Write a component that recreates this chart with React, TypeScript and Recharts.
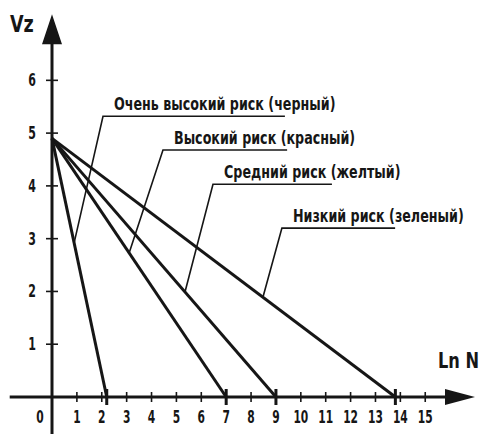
import { LineChart, Line, XAxis, YAxis, ReferenceLine, ReferenceDot } from 'recharts';

const FONT = "'DejaVu Sans Condensed', 'DejaVu Sans', sans-serif";
const INK = '#161616';

// risk categories, in the order they fan out from the start point
const riskLabels = [
  'Очень высокий риск (черный)',
  'Высокий риск (красный)',
  'Средний риск (желтый)',
  'Низкий риск (зеленый)',
];
const startX = 0;
const startY = 4.9;
const endX = [2.2, 7, 9, 13.8];

const xTicks = [0, 1, 2, 3, 4, 5, 6, 7, 8, 9, 10, 11, 12, 13, 14, 15];
const yTicks = [1, 2, 3, 4, 5, 6];

// leader lines for the callouts (data units)
const leaderAnchorY = [2.92, 2.73, 1.99, 1.89];
const leaderElbowX = [2.05, 4.46, 6.47, 9.24];
const leaderElbowY = [5.32, 4.68, 4.03, 3.2];
const leaderEndX = [9.36, 9.45, 11.25, 13.79];

const series = endX.map((ex) => [
  { x: startX, y: startY },
  { x: ex, y: 0 },
]);

const leaders = endX.map((ex, i) => {
  const ay = leaderAnchorY[i];
  const ax = startX + ((ex - startX) * (startY - ay)) / startY;
  return [
    { x: leaderEndX[i], y: leaderElbowY[i] },
    { x: leaderElbowX[i], y: leaderElbowY[i] },
    { x: ax, y: ay },
  ];
});

const TICK_SIZE = 6;

// the scan uses a condensed face, so squeeze DejaVu horizontally
function Txt({ x, y, size, sx, anchor = 'start', children }: any) {
  return (
    <text
      transform={`translate(${x},${y}) scale(${sx},1)`}
      textAnchor={anchor}
      fontFamily={FONT}
      fontWeight="bold"
      fontSize={size}
      fill={INK}
    >
      {children}
    </text>
  );
}

function YTick(props: any) {
  const { x, y, payload } = props;
  const axisX = x + TICK_SIZE + 10;
  return (
    <g>
      <line x1={axisX - 6} x2={axisX + 6} y1={y} y2={y} stroke={INK} strokeWidth={1.6} />
      <Txt x={x} y={y + 6} size={17} sx={0.72} anchor="end">
        {payload.value}
      </Txt>
    </g>
  );
}

function XTick(props: any) {
  const { x, y, payload } = props;
  const axisY = y - TICK_SIZE - 2;
  const isZero = payload.value === 0;
  return (
    <g>
      {!isZero && <line x1={x} x2={x} y1={axisY - 5} y2={axisY + 5} stroke={INK} strokeWidth={1.6} />}
      <Txt x={isZero ? x - 12 : x} y={axisY + 26} size={17} sx={0.7} anchor="middle">
        {payload.value}
      </Txt>
    </g>
  );
}

const upArrow = (p: any) => (
  <polygon points={`${p.cx},${p.cy} ${p.cx - 10},${p.cy + 30} ${p.cx + 10},${p.cy + 30}`} fill={INK} />
);
const rightArrow = (p: any) => (
  <polygon points={`${p.cx},${p.cy} ${p.cx - 30},${p.cy - 8} ${p.cx - 30},${p.cy + 8}`} fill={INK} />
);
const endMark = (p: any) => (
  <line x1={p.cx} x2={p.cx} y1={p.cy - 8} y2={p.cy + 8} stroke={INK} strokeWidth={3} />
);
const calloutText = (text: string) => (p: any) => (
  <Txt x={p.cx + 11} y={p.cy - 6} size={17} sx={0.83}>
    {text}
  </Txt>
);

export default function App() {
  return (
    <div style={{ position: 'fixed', left: 0, top: 0, width: 481, height: 435, background: '#fff' }}>
      <LineChart width={481} height={435} margin={{ top: 17, right: 6, bottom: 0, left: 0 }}>
        <XAxis
          type="number"
          dataKey="x"
          domain={[0, 17]}
          ticks={xTicks}
          height={38}
          axisLine={false}
          tickLine={false}
          tickSize={TICK_SIZE}
          tickMargin={2}
          tick={XTick}
          interval={0}
          label={{
            content: ({ viewBox }: any) => (
              <Txt x={viewBox.x + viewBox.width + 4} y={viewBox.y - 29} size={22} sx={0.82} anchor="end">
                Ln N
              </Txt>
            ),
          }}
        />
        <YAxis
          type="number"
          domain={[0, 7.2]}
          ticks={yTicks}
          width={52}
          axisLine={false}
          tickLine={false}
          tickSize={TICK_SIZE}
          tickMargin={10}
          tick={YTick}
          interval={0}
          label={{
            content: ({ viewBox }: any) => (
              <Txt x={viewBox.x + 10} y={viewBox.y + 15} size={23} sx={0.85}>
                Vz
              </Txt>
            ),
          }}
        />

        <ReferenceLine segment={[{ x: 0, y: -0.7 }, { x: 0, y: 7.1 }]} stroke={INK} strokeWidth={3} ifOverflow="visible" />
        <ReferenceLine segment={[{ x: -1.7, y: 0 }, { x: 16.5, y: 0 }]} stroke={INK} strokeWidth={3} ifOverflow="visible" />
        <ReferenceDot x={0} y={7.25} r={1} shape={upArrow} ifOverflow="visible" />
        <ReferenceDot x={17} y={0} r={1} shape={rightArrow} ifOverflow="visible" />

        {series.map((d, i) => (
          <Line
            key={riskLabels[i]}
            data={d}
            dataKey="y"
            type="linear"
            stroke={INK}
            strokeWidth={3}
            dot={false}
            activeDot={false}
            isAnimationActive={false}
          />
        ))}
        {leaders.map((d, i) => (
          <Line
            key={'leader-' + i}
            data={d}
            dataKey="y"
            type="linear"
            stroke={INK}
            strokeWidth={1.6}
            dot={false}
            activeDot={false}
            isAnimationActive={false}
          />
        ))}
        {endX.map((ex) => (
          <ReferenceDot key={'end-' + ex} x={ex} y={0} r={1} shape={endMark} ifOverflow="visible" />
        ))}
        {riskLabels.map((t, i) => (
          <ReferenceDot
            key={t}
            x={leaderElbowX[i]}
            y={leaderElbowY[i]}
            r={1}
            shape={calloutText(t)}
            ifOverflow="visible"
          />
        ))}
      </LineChart>
    </div>
  );
}
